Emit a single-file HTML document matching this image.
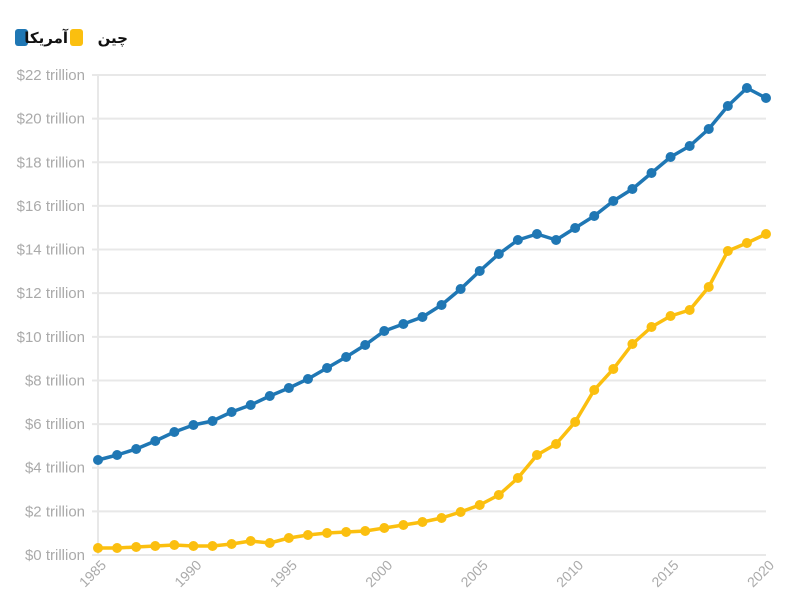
<!DOCTYPE html>
<html><head><meta charset="utf-8"><style>
body{margin:0;background:#fff;}
svg{display:block;font-family:"Liberation Sans","Noto Sans CJK SC",sans-serif;}
</style></head><body>
<svg width="786" height="610" xmlns="http://www.w3.org/2000/svg">
<rect x="15" y="29" width="13" height="17" rx="3" fill="#1f77b4"/>
<text x="68" y="43" font-size="15" font-weight="bold" fill="#111" text-anchor="end" font-family="DejaVu Sans,sans-serif">آمریکا</text>
<rect x="70" y="29" width="13" height="17" rx="3" fill="#fbbf0f"/>
<text x="128" y="43" font-size="15" font-weight="bold" fill="#111" text-anchor="end" font-family="DejaVu Sans,sans-serif">چین</text>
<g id="grid" stroke="#e8e8e8" stroke-width="2"></g>
<g id="ylab" font-size="15" fill="#aaa" text-anchor="end"></g>
<g id="xlab" font-size="14" fill="#aaa"></g>
<line x1="98" y1="75" x2="98" y2="555" stroke="#e8e8e8" stroke-width="2"/>
<g id="series"></g>
<script>
var ns="http://www.w3.org/2000/svg";
function el(t,a,p,txt){var e=document.createElementNS(ns,t);for(var k in a)e.setAttribute(k,a[k]);if(txt)e.textContent=txt;document.getElementById(p).appendChild(e);return e;}
for(var i=0;i<=11;i++){var y=555-i*480/11;
el("line",{x1:92,x2:766,y1:y,y2:y},"grid");
el("text",{x:85,y:y+5},"ylab","$"+(i*2)+" trillion");}
for(var yr=1985;yr<=2020;yr+=5){var x=98+(yr-1985)*668/35;
el("text",{x:0,y:0,transform:"translate("+(x+9)+",566) rotate(-45)","text-anchor":"end"},"xlab",""+yr);}
var us=[460,455,449,441,432,425,421,412,405,396,388,379,368,357,345,331,324,317,305,289,271,254,240,234,240,228,216,201,189,173,157,146,129,106,88,98];
var cn=[548,548,547,546,545,546,546,544,541,543,538,535,533,532,531,528,525,522,518,512,505,495,478,455,444,422,390,369,344,327,316,310,287,251,243,234];
[[us,"#1f77b4"],[cn,"#fbbf0f"]].forEach(function(s){
var pts=s[0].map(function(v,i){return (98+i*668/35).toFixed(1)+","+v;});
el("polyline",{points:pts.join(" "),fill:"none",stroke:s[1],"stroke-width":3.5,"stroke-linejoin":"round"},"series");
s[0].forEach(function(v,i){el("circle",{cx:98+i*668/35,cy:v,r:5,fill:s[1]},"series");});
});
</script>
</svg>
</body></html>
